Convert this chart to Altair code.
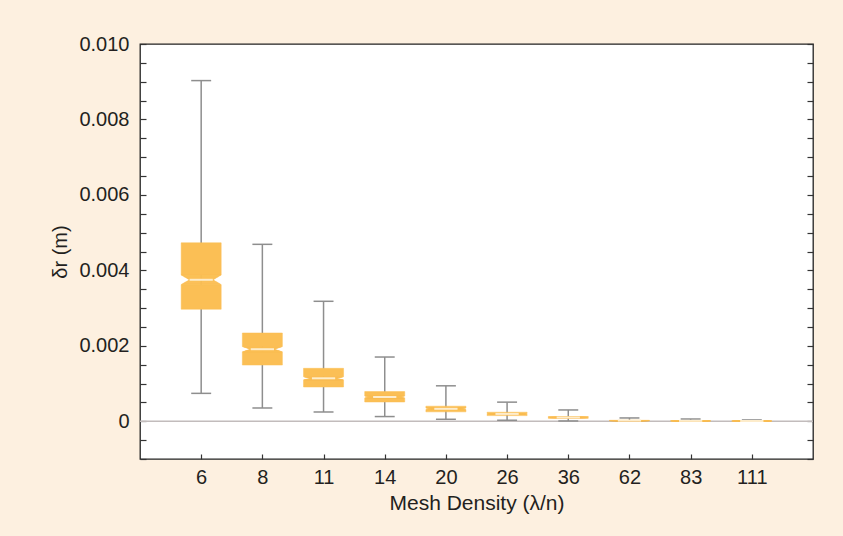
import altair as alt
import pandas as pd

# ---- data (values in metres) ----
categories = ["6", "8", "11", "14", "20", "26", "36", "62", "83", "111"]
whisker_low = [0.00074, 0.000352, 0.000246, 0.000125, 0.000053, 0.000027, 0.000008, 0.0, 0.0, 0.0]
q1 = [0.00297, 0.00149, 0.000909, 0.000511, 0.00025, 0.00015, 0.00008, 0.000010, 0.000006, 0.000004]
median = [0.00375, 0.00191, 0.001139, 0.000644, 0.00033, 0.000195, 0.0001, 0.000018, 0.000011, 0.000007]
q3 = [0.00473, 0.00234, 0.001404, 0.000787, 0.0004, 0.00024, 0.000125, 0.000026, 0.000016, 0.00001]
whisker_high = [0.00903, 0.00469, 0.00318, 0.001703, 0.00094, 0.000507, 0.0003, 0.000088, 0.00006, 0.000035]
notch_half = [0.00013, 0.00007, 0.00004, 0.000025, 0.00002, 0.00001, 0.000005, 0.000002, 0.000001, 0.000001]

y_label_values = [0.0, 0.002, 0.004, 0.006, 0.008, 0.010]
y_minor_values = [round(-0.001 + 0.0005 * i, 4) for i in range(23)]

# ---- style constants ----
BOX_HALF = 0.327
NOTCH_HALF = 0.19
CAP_HALF = 0.163
N_SLICES = 8
ORANGE = "#fbbf55"
MEDIAN_COL = "#fdeccb"
WHISK = "#8e8e8e"
BG = "#fdf0e0"
TXT = "#231f20"
FONT = "Liberation Sans"

W, H = 673, 415

pos = list(range(1, len(categories) + 1))

stats = pd.DataFrame({
    "cat": categories, "pos": pos, "lo": whisker_low, "q1": q1,
    "med": median, "q3": q3, "hi": whisker_high, "nh": notch_half,
})
stats["cap_l"] = stats["pos"] - CAP_HALF
stats["cap_r"] = stats["pos"] + CAP_HALF
stats["med_l"] = stats["pos"] - NOTCH_HALF
stats["med_r"] = stats["pos"] + NOTCH_HALF

# notched box built from rect pieces: body below/above the notch and thin
# slices whose width narrows linearly towards the median
rows = []
for i in range(len(categories)):
    p = float(pos[i])
    b_q1, b_med, b_q3 = q1[i], median[i], q3[i]
    nlo = max(b_q1, b_med - notch_half[i])
    nhi = min(b_q3, b_med + notch_half[i])
    pieces = [(b_q1, nlo, BOX_HALF), (nhi, b_q3, BOX_HALF)]
    for s in range(N_SLICES):
        f0, f1 = s / N_SLICES, (s + 1) / N_SLICES
        hw = BOX_HALF - (BOX_HALF - NOTCH_HALF) * (s + 0.5) / N_SLICES
        pieces.append((nlo + (b_med - nlo) * f0, nlo + (b_med - nlo) * f1, hw))
        pieces.append((nhi - (nhi - b_med) * f1, nhi - (nhi - b_med) * f0, hw))
    for ya, yb, hw in pieces:
        rows.append({"cat": categories[i], "xa": p - hw, "xb": p + hw,
                     "ya": ya, "yb": yb})
box_df = pd.DataFrame(rows)

label_js = "[" + ",".join("'" + c + "'" for c in categories) + "]"

xscale = alt.Scale(domain=[0, 11], nice=False, zero=False)
yscale = alt.Scale(domain=[-0.001, 0.010], nice=False, zero=False)

zero_df = pd.DataFrame({"x0": [0], "x1": [11], "y0": [0.0]})

zero_line = alt.Chart(zero_df).mark_rule(color="#c2bcbc", strokeWidth=1.5).encode(
    x=alt.X("x0:Q", scale=xscale, axis=alt.Axis(
        orient="bottom", values=pos,
        labelExpr=label_js + "[datum.value - 1]",
        ticks=False, domain=False, grid=False,
        labelFontSize=20, labelPadding=8, labelColor=TXT, labelFont=FONT,
        title="Mesh Density (λ/n)", titleFontSize=21, titleFont=FONT,
        titleFontWeight="normal", titleColor=TXT, titlePadding=5)),
    x2="x1:Q",
    y=alt.Y("y0:Q", scale=yscale, axis=alt.Axis(
        orient="left", values=y_label_values,
        labelExpr="datum.value == 0 ? '0' : format(datum.value, '.3f')",
        ticks=False, domain=False, grid=False,
        labelFontSize=20, labelPadding=11, labelColor=TXT, labelFont=FONT,
        title="δr (m)", titleFontSize=20, titleFont=FONT,
        titleFontWeight="normal", titleColor=TXT, titlePadding=8)),
)

whiskers = alt.Chart(stats).mark_rule(color=WHISK, strokeWidth=1.5).encode(
    x=alt.X("pos:Q", scale=xscale, axis=alt.Axis(
        orient="bottom", offset=-5, values=pos, labels=False, domain=False,
        grid=False, ticks=True, tickSize=5, tickColor="#333333", tickWidth=1.2,
        title=None)),
    y=alt.Y("lo:Q", scale=yscale, axis=alt.Axis(
        orient="left", offset=-6, values=y_minor_values, labels=False,
        domain=False, grid=False, ticks=True, tickSize=6, tickColor="#333333",
        tickWidth=1.2, title=None)),
    y2="hi:Q",
)

caps_hi = alt.Chart(stats).mark_rule(color=WHISK, strokeWidth=1.5).encode(
    x=alt.X("cap_l:Q", scale=xscale, axis=None),
    x2="cap_r:Q",
    y=alt.Y("hi:Q", scale=yscale, axis=alt.Axis(
        orient="right", offset=-6, values=y_minor_values, labels=False,
        domain=False, grid=False, ticks=True, tickSize=6, tickColor="#333333",
        tickWidth=1.2, title=None)),
)

caps_lo = alt.Chart(stats).mark_rule(color=WHISK, strokeWidth=1.5).encode(
    x=alt.X("cap_l:Q", scale=xscale, axis=None),
    x2="cap_r:Q",
    y=alt.Y("lo:Q", scale=yscale, axis=None),
)

boxes = alt.Chart(box_df).mark_rect(
    color=ORANGE, stroke=ORANGE, strokeWidth=0.5, opacity=1
).encode(
    x=alt.X("xa:Q", scale=xscale, axis=None),
    x2="xb:Q",
    y=alt.Y("ya:Q", scale=yscale, axis=None),
    y2="yb:Q",
)

medians = alt.Chart(stats).mark_rule(color=MEDIAN_COL, strokeWidth=2).encode(
    x=alt.X("med_l:Q", scale=xscale, axis=None),
    x2="med_r:Q",
    y=alt.Y("med:Q", scale=yscale, axis=None),
)

chart = alt.layer(
    zero_line, whiskers, caps_hi, caps_lo, boxes, medians
).resolve_axis(
    x="independent", y="independent"
).properties(
    width=W, height=H,
    background=BG,
    padding={"left": 140, "top": 44, "right": 30, "bottom": 77},
    autosize=alt.AutoSizeParams(type="none"),
).configure_view(
    stroke="#222222", strokeWidth=1.3, fill="white"
)

chart.save("out.html", embed_options={"renderer": "svg", "actions": False})
